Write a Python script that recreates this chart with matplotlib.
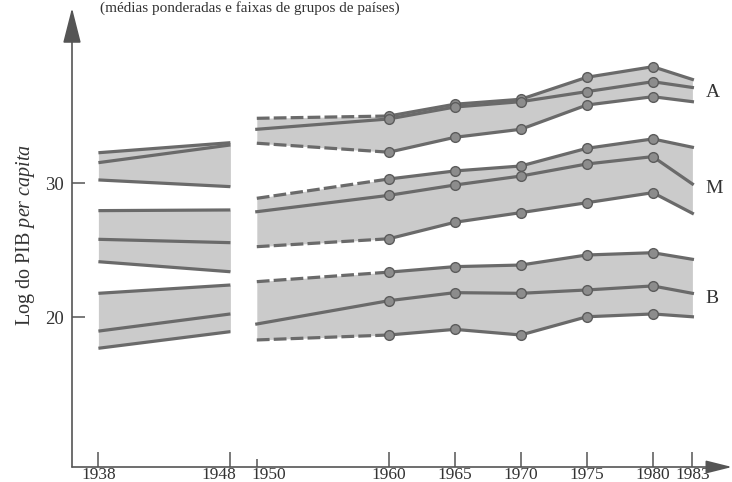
import matplotlib
matplotlib.use("Agg")
import matplotlib.pyplot as plt
from matplotlib.transforms import ScaledTranslation

# ---------------- data ----------------
years_left = [1938, 1948]
years_right = [1950, 1960, 1965, 1970, 1975, 1980, 1983]

# Group A (alto)
A_up_left = [32.28, 33.03]
A_mid_left = [31.54, 32.86]
A_low_left = [30.25, 29.75]
A_up_right = [34.85, 35.02, 35.90, 36.27, 37.91, 38.70, 37.75]
A_mid_right = [34.03, 34.80, 35.69, 36.09, 36.84, 37.58, 37.15]
A_low_right = [32.99, 32.32, 33.43, 34.03, 35.84, 36.46, 36.09]

# Group M (médio)
M_up_left = [27.96, 28.01]
M_mid_left = [25.82, 25.57]
M_low_left = [24.15, 23.40]
M_up_right = [28.88, 30.32, 30.92, 31.29, 32.61, 33.31, 32.69]
M_mid_right = [27.88, 29.10, 29.87, 30.54, 31.44, 31.99, 29.95]
M_low_right = [25.27, 25.86, 27.09, 27.81, 28.55, 29.30, 27.76]

# Group B (baixo)
B_up_left = [21.79, 22.41]
B_mid_left = [18.97, 20.25]
B_low_left = [17.69, 18.93]
B_up_right = [22.66, 23.37, 23.78, 23.90, 24.65, 24.82, 24.33]
B_mid_right = [19.50, 21.24, 21.84, 21.79, 22.04, 22.34, 21.79]
B_low_right = [18.31, 18.68, 19.10, 18.68, 20.04, 20.25, 20.04]

group_labels = ["A", "M", "B"]
x_ticks_major = [1938, 1948, 1960, 1965, 1970, 1975, 1980, 1983]
x_ticks_minor = [1950]
y_ticks = [20, 30]

title = "(médias ponderadas e faixas de grupos de países)"

# ---------------- style ----------------
SERIF = ["Liberation Serif", "DejaVu Serif"]
plt.rcParams["font.family"] = SERIF
plt.rcParams["mathtext.fontset"] = "custom"
plt.rcParams["mathtext.rm"] = "Liberation Serif"
plt.rcParams["mathtext.it"] = "Liberation Serif:italic"

LINE = "#6a6a6a"
FILL = "#cbcbcb"
AXC = "#555555"
TXT = "#333333"

fig = plt.figure(figsize=(7.32, 4.82), dpi=100)
W, H = 732, 482
x0, x1 = 72, 732
y_bot, y_top = 467, 8
ax = fig.add_axes([x0 / W, (H - y_bot) / H, (x1 - x0) / W, (y_bot - y_top) / H])
ax.set_xlim(1936.0, 1986.0)
ax.set_ylim(8.83, 43.08)
for s in ax.spines.values():
    s.set_visible(False)
ax.patch.set_visible(False)

mk = dict(marker="o", markersize=7, markerfacecolor="#8c8c8c",
          markeredgecolor="#5c5c5c", markeredgewidth=1.0)
lw = 2.3
dash = (0, (4.0, 1.3))

groups = [
    (A_up_left, A_mid_left, A_low_left, A_up_right, A_mid_right, A_low_right),
    (M_up_left, M_mid_left, M_low_left, M_up_right, M_mid_right, M_low_right),
    (B_up_left, B_mid_left, B_low_left, B_up_right, B_mid_right, B_low_right),
]

mk_years = years_right[1:6]
for (ul, ml, ll, ur, mr, lr) in groups:
    # left block
    ax.fill_between(years_left, ll, ul, color=FILL, lw=0, zorder=1)
    for ser in (ul, ml, ll):
        ax.plot(years_left, ser, color=LINE, lw=lw, solid_capstyle="butt", zorder=3)
    # right block
    ax.fill_between(years_right, lr, ur, color=FILL, lw=0, zorder=1)
    for ser in (ur, lr):
        ax.plot(years_right[:2], ser[:2], color=LINE, lw=lw, linestyle=dash,
                dash_capstyle="butt", zorder=3)
        ax.plot(years_right[1:], ser[1:], color=LINE, lw=lw, zorder=3)
    ax.plot(years_right, mr, color=LINE, lw=lw, zorder=3)
    for ser in (ur, mr, lr):
        ax.plot(mk_years, ser[1:6], linestyle="none", zorder=4, **mk)

# group labels (at the level of the end of each mean line)
mids = [A_mid_right, M_mid_right, B_mid_right]
for lab, mid in zip(group_labels, mids):
    ax.text(1984.0, mid[-1] - 0.35, lab, fontsize=14, color=TXT, va="center",
            ha="left")

# axes arrows
ax.annotate("", xy=(0, 1), xytext=(0, 0), xycoords="axes fraction",
            arrowprops=dict(arrowstyle="-|>,head_length=1.1,head_width=0.28",
                            mutation_scale=20, color=AXC, lw=1.2,
                            shrinkA=0, shrinkB=0))
ax.annotate("", xy=(1, 0), xytext=(0, 0), xycoords="axes fraction",
            arrowprops=dict(arrowstyle="-|>,head_length=0.8,head_width=0.2",
                            mutation_scale=20, color=AXC, lw=1.2,
                            shrinkA=0, shrinkB=0))

# ticks
ax.set_xticks(x_ticks_major)
ax.set_xticks(x_ticks_minor, minor=True)
ax.set_xticklabels([str(y) for y in x_ticks_major])
ax.set_xticklabels([str(y) for y in x_ticks_minor], minor=True)
ax.tick_params(axis="x", which="major", direction="in", length=11, width=1.1,
               color=AXC, labelsize=12.5, labelcolor=TXT, pad=0)
ax.tick_params(axis="x", which="minor", direction="in", length=6, width=1.1,
               color=AXC, labelsize=12.5, labelcolor=TXT, pad=0)
for t in ax.get_xticklabels():
    if t.get_text() == "1948":
        t.set_ha("right")
        t.set_transform(t.get_transform() + ScaledTranslation(6 / 100, 0, fig.dpi_scale_trans))
for t in ax.get_xticklabels(minor=True):
    t.set_ha("left")
    t.set_transform(t.get_transform() + ScaledTranslation(-5 / 100, 0, fig.dpi_scale_trans))

ax.set_yticks(y_ticks)
ax.set_yticklabels([str(v) for v in y_ticks])
ax.tick_params(axis="y", direction="in", length=9.5, width=1.1, color=AXC,
               labelsize=13.5, labelcolor=TXT, pad=6)

ax.set_ylabel(r"Log do PIB $\mathit{per\ capita}$", fontsize=14.5, color=TXT)
ax.yaxis.set_label_coords(-0.053, 0.505)

fig.text(250 / W, 1 - 12 / H, title, fontsize=11, color=TXT, ha="center",
         va="baseline")

fig.savefig("out.png", dpi=100)
